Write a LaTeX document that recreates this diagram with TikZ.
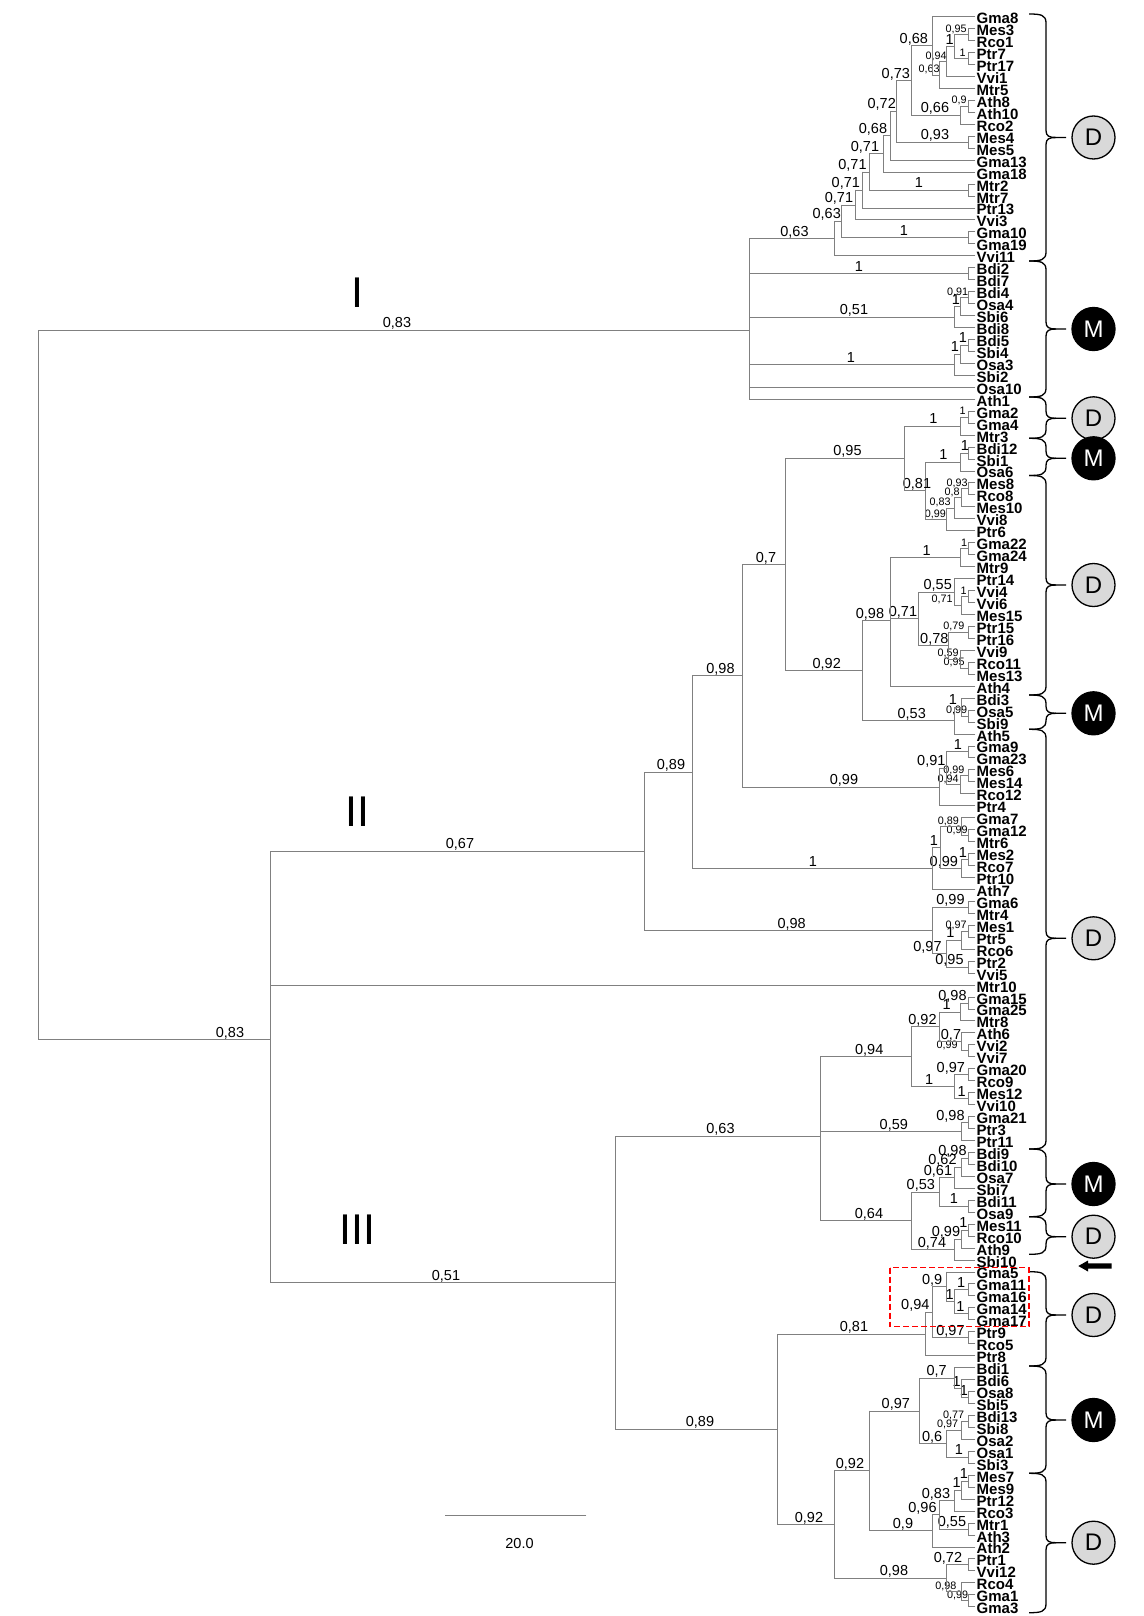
\documentclass[tikz,border=0pt]{standalone}
\usepackage{fontspec}
\setmainfont{Liberation Sans}
\newdimen\ndsum \newdimen\ndmin \newdimen\ndmax \newdimen\ndtmp \newcount\ndcnt
% internal node: name, x, children
\newcommand\nd[3]{%
  \global\ndsum=0pt \global\ndcnt=0
  \global\ndmin=16000pt \global\ndmax=-16000pt
  \foreach \chd in {#3}{%
    \pgfextracty{\ndtmp}{\pgfpointanchor{\chd}{center}}%
    \global\advance\ndsum by \ndtmp
    \global\advance\ndcnt by 1
    \ifdim\ndtmp<\ndmin \global\ndmin=\ndtmp\fi
    \ifdim\ndtmp>\ndmax \global\ndmax=\ndtmp\fi
    \draw[treeline] (#2pt,\the\ndtmp) -- (\chd);
  }%
  \global\divide\ndsum by \ndcnt
  \draw[treeline] (#2pt,\the\ndmin) -- (#2pt,\the\ndmax);
  \coordinate (#1) at (#2pt,\the\ndsum);
}
% label: style, node, x centre, text
\newcommand\lb[4]{%
  \pgfextracty{\ndtmp}{\pgfpointanchor{#2}{center}}%
  \node[#1] at ([yshift=2.5pt]#3pt,\the\ndtmp) {#4};}
% brace: top, bottom, tip
\newcommand\brc[3]{%
  \draw[bracestyle] (1029,#1) .. controls (1041,#1) and (1046,{#1+1}) .. (1046,{#1+9}) -- (1046,{#3-7}) .. controls (1046,{#3-1.5}) and (1049,#3) .. (1056,#3) -- (1066,#3);
  \draw[bracestyle] (1029,#2) .. controls (1041,#2) and (1046,{#2-1}) .. (1046,{#2-9}) -- (1046,{#3+7}) .. controls (1046,{#3+1.5}) and (1049,#3) .. (1056,#3);
}
\begin{document}
\begin{tikzpicture}[x=1pt,y=-1pt,
  treeline/.style={draw=black!50, line width=0.9pt, line cap=rect},
  leaf/.style={font=\bfseries\fontsize{15}{15}\selectfont, anchor=base west, inner sep=0pt},
  lL/.style={font=\fontsize{14.5}{14.5}\selectfont, anchor=base, inner sep=0pt},
  lS/.style={font=\fontsize{10.8}{10.8}\selectfont, anchor=base, inner sep=0pt},
  roman/.style={font=\fontsize{43}{43}\selectfont, anchor=base, inner sep=0pt},
  bracestyle/.style={draw=black, line width=1.3pt},
  cD/.style={circle, draw=black, line width=1.3pt, fill=black!15, minimum size=43pt, inner sep=0pt, font=\fontsize{24}{24}\selectfont},
  cM/.style={circle, draw=black, line width=1.3pt, fill=black, text=white, minimum size=43pt, inner sep=0pt, font=\fontsize{24}{24}\selectfont}]
\fill[white] (0,0) rectangle (1143,1616);
\useasboundingbox (0,0) rectangle (1143,1616);
% leaves
\foreach \nm [count=\i] in {Gma8,Mes3,Rco1,Ptr7,Ptr17,Vvi1,Mtr5,Ath8,Ath10,Rco2,Mes4,Mes5,Gma13,Gma18,Mtr2,Mtr7,Ptr13,Vvi3,Gma10,Gma19,Vvi11,Bdi2,Bdi7,Bdi4,Osa4,Sbi6,Bdi8,Bdi5,Sbi4,Osa3,Sbi2,Osa10,Ath1,Gma2,Gma4,Mtr3,Bdi12,Sbi1,Osa6,Mes8,Rco8,Mes10,Vvi8,Ptr6,Gma22,Gma24,Mtr9,Ptr14,Vvi4,Vvi6,Mes15,Ptr15,Ptr16,Vvi9,Rco11,Mes13,Ath4,Bdi3,Osa5,Sbi9,Ath5,Gma9,Gma23,Mes6,Mes14,Rco12,Ptr4,Gma7,Gma12,Mtr6,Mes2,Rco7,Ptr10,Ath7,Gma6,Mtr4,Mes1,Ptr5,Rco6,Ptr2,Vvi5,Mtr10,Gma15,Gma25,Mtr8,Ath6,Vvi2,Vvi7,Gma20,Rco9,Mes12,Vvi10,Gma21,Ptr3,Ptr11,Bdi9,Bdi10,Osa7,Sbi7,Bdi11,Osa9,Mes11,Rco10,Ath9,Sbi10,Gma5,Gma11,Gma16,Gma14,Gma17,Ptr9,Rco5,Ptr8,Bdi1,Bdi6,Osa8,Sbi5,Bdi13,Sbi8,Osa2,Osa1,Sbi3,Mes7,Mes9,Ptr12,Rco3,Mtr1,Ath3,Ath2,Ptr1,Vvi12,Rco4,Gma1,Gma3}{
  \coordinate (\nm) at (975,{16.7+(\i-1)*11.955});
  \node[leaf] (t\nm) at (976.5,{16.7+(\i-1)*11.955+7}) {\nm};
}
% ---------- clade I
\nd{a1}{968.5}{Mes3,Rco1} \lb{lS}{a1}{956}{0,95}
\nd{a2}{968.5}{Ptr7,Ptr17} \lb{lS}{a2}{962.5}{1}
\nd{a3}{954}{a1,a2} \lb{lL}{a3}{949.7}{1}
\nd{a4}{946.7}{a3,Vvi1} \lb{lS}{a4}{936}{0,94}
\nd{a5}{939.3}{a4,Mtr5} \lb{lS}{a5}{929}{0,63}
\nd{a6}{932.7}{Gma8,a5} \lb{lL}{a6}{913.8}{0,68}
\nd{a7}{968.5}{Ath8,Ath10} \lb{lS}{a7}{959}{0,9}
\nd{a8}{960}{a7,Rco2} \lb{lL}{a8}{935}{0,66}
\nd{a9}{911.7}{a6,a8} \lb{lL}{a9}{895.8}{0,73}
\nd{a10}{968.5}{Mes4,Mes5} \lb{lL}{a10}{935}{0,93}
\nd{a11}{896.7}{a9,a10} \lb{lL}{a11}{881.7}{0,72}
\nd{a12}{890}{a11,Gma13} \lb{lL}{a12}{873}{0,68}
\nd{a13}{883.3}{a12,Gma18} \lb{lL}{a13}{865}{0,71}
\nd{a14}{968.5}{Mtr2,Mtr7} \lb{lL}{a14}{919}{1}
\nd{a15}{869.3}{a13,a14} \lb{lL}{a15}{852.5}{0,71}
\nd{a16}{862.7}{a15,Ptr13} \lb{lL}{a16}{845.8}{0,71}
\nd{a17}{855}{a16,Vvi3} \lb{lL}{a17}{839}{0,71}
\nd{a18}{968.5}{Gma10,Gma19} \lb{lL}{a18}{904}{1}
\nd{a19}{841}{a17,a18} \lb{lL}{a19}{826.7}{0,63}
\nd{a20}{834.3}{a19,Vvi11} \lb{lL}{a20}{794.5}{0,63}
\nd{b1}{968.5}{Bdi2,Bdi7} \lb{lL}{b1}{859}{1}
\nd{b2}{968.5}{Bdi4,Osa4} \lb{lS}{b2}{957.5}{0,91}
\nd{b3}{960.7}{b2,Sbi6} \lb{lL}{b3}{956}{1}
\nd{b4}{954}{b3,Bdi8} \lb{lL}{b4}{854}{0,51}
\nd{b5}{968.5}{Bdi5,Sbi4} \lb{lL}{b5}{963}{1}
\nd{b6}{960.7}{b5,Osa3} \lb{lL}{b6}{955}{1}
\nd{b7}{954}{b6,Sbi2} \lb{lL}{b7}{851}{1}
\nd{cI}{749}{a20,b1,b4,b7,Osa10,Ath1} \lb{lL}{cI}{397}{0,83}
% ---------- clade II
\nd{c1}{968.5}{Gma2,Gma4} \lb{lS}{c1}{962.5}{1}
\nd{c2}{960.7}{c1,Mtr3} \lb{lL}{c2}{933.3}{1}
\nd{c3}{968.5}{Bdi12,Sbi1} \lb{lL}{c3}{965}{1}
\nd{c4}{960.7}{c3,Osa6} \lb{lL}{c4}{943.3}{1}
\nd{d1}{968.5}{Mes8,Rco8} \lb{lS}{d1}{957}{0,93}
\nd{d2}{961}{d1,Mes10} \lb{lS}{d2}{952}{0,8}
\nd{d3}{954}{d2,Vvi8} \lb{lS}{d3}{940}{0,83}
\nd{d4}{946.7}{d3,Ptr6} \lb{lS}{d4}{935.3}{0,99}
\nd{c5}{925}{c4,d4} \lb{lL}{c5}{917}{0,81}
\nd{c6}{904.3}{c2,c5} \lb{lL}{c6}{847.5}{0,95}
\nd{e1}{968.5}{Gma22,Gma24} \lb{lS}{e1}{964}{1}
\nd{e2}{960.7}{e1,Mtr9} \lb{lL}{e2}{926.7}{1}
\nd{f1}{968.5}{Vvi4,Vvi6} \lb{lS}{f1}{963.5}{1}
\nd{f2}{961.7}{f1,Mes15} \lb{lS}{f2}{942}{0,71}
\nd{f3}{954}{Ptr14,f2} \lb{lL}{f3}{937.7}{0,55}
\nd{g1}{968.5}{Ptr15,Ptr16} \lb{lS}{g1}{953.8}{0,79}
\nd{g2}{968.5}{Rco11,Mes13} \lb{lS}{g2}{954}{0,95}
\nd{g3}{960.7}{Vvi9,g2} \lb{lS}{g3}{948}{0,59}
\nd{g4}{948.3}{g1,g3} \lb{lL}{g4}{934.3}{0,78}
\nd{f4}{918.3}{f3,g4} \lb{lL}{f4}{903}{0,71}
\nd{e3}{890}{e2,f4,Ath4} \lb{lL}{e3}{870}{0,98}
\nd{h1}{968.5}{Osa5,Sbi9} \lb{lS}{h1}{956.7}{0,99}
\nd{h2}{961.7}{Bdi3,h1} \lb{lL}{h2}{953}{1}
\nd{h3}{954}{h2,Ath5} \lb{lL}{h3}{911.7}{0,53}
\nd{e4}{862.7}{e3,h3} \lb{lL}{e4}{826.7}{0,92}
\nd{c7}{785.4}{c6,e4} \lb{lL}{c7}{766}{0,7}
\nd{i1}{968.5}{Gma9,Gma23} \lb{lL}{i1}{958}{1}
\nd{i2}{968.5}{Mes6,Mes14} \lb{lS}{i2}{953.8}{0,99}
\nd{i3}{960.7}{i2,Rco12} \lb{lS}{i3}{948}{0,94}
\nd{i4}{946.7}{i1,i3} \lb{lL}{i4}{931.3}{0,91}
\nd{i5}{939.3}{i4,Ptr4} \lb{lL}{i5}{844}{0,99}
\nd{e5}{742.1}{c7,i5} \lb{lL}{e5}{720.5}{0,98}
\nd{j1}{968.5}{Gma12,Mtr6} \lb{lS}{j1}{957}{0,99}
\nd{j2}{961}{Gma7,j1} \lb{lS}{j2}{948.3}{0,89}
\nd{j3}{968.5}{Mes2,Rco7} \lb{lL}{j3}{963}{1}
\nd{j4}{961}{j3,Ptr10} \lb{lL}{j4}{943.8}{0,99}
\nd{j5}{940}{j2,j4} \lb{lL}{j5}{934}{1}
\nd{j6}{932.7}{j5,Ath7} \lb{lL}{j6}{813}{1}
\nd{e6}{692.6}{e5,j6} \lb{lL}{e6}{671}{0,89}
\nd{k1}{968.5}{Gma6,Mtr4} \lb{lL}{k1}{950.5}{0,99}
\nd{k2}{968.5}{Mes1,Ptr5} \lb{lS}{k2}{956}{0,97}
\nd{k3}{961}{k2,Rco6} \lb{lL}{k3}{950.5}{1}
\nd{k4}{968.5}{Ptr2,Vvi5} \lb{lL}{k4}{949.5}{0,95}
\nd{k5}{946.7}{k3,k4} \lb{lL}{k5}{927.5}{0,97}
\nd{k6}{932.7}{k1,k5} \lb{lL}{k6}{791.6}{0,98}
\nd{cII}{644.2}{e6,k6} \lb{lL}{cII}{460}{0,67}
% ---------- clade III
\nd{l1}{968.5}{Gma15,Gma25} \lb{lL}{l1}{952.5}{0,98}
\nd{l2}{960.7}{l1,Mtr8} \lb{lL}{l2}{946.7}{1}
\nd{l3}{968.5}{Vvi2,Vvi7} \lb{lS}{l3}{947}{0,99}
\nd{l4}{961}{Ath6,l3} \lb{lL}{l4}{951}{0,7}
\nd{l5}{939.3}{l2,l4} \lb{lL}{l5}{922.5}{0,92}
\nd{l6}{968.5}{Gma20,Rco9} \lb{lL}{l6}{950.8}{0,97}
\nd{l7}{968.5}{Mes12,Vvi10} \lb{lL}{l7}{961.7}{1}
\nd{l8}{954}{l6,l7} \lb{lL}{l8}{929.2}{1}
\nd{l9}{911}{l5,l8} \lb{lL}{l9}{869.2}{0,94}
\nd{m0}{968.5}{Gma21,Ptr3} \lb{lL}{m0}{950.5}{0,98}
\nd{m1}{961}{m0,Ptr11} \lb{lL}{m1}{893.8}{0,59}
\nd{n1}{968.5}{Bdi9,Bdi10} \lb{lL}{n1}{952.5}{0,98}
\nd{n2}{961}{n1,Osa7} \lb{lL}{n2}{942.5}{0,62}
\nd{n3}{954}{n2,Sbi7} \lb{lL}{n3}{938}{0,61}
\nd{n4}{968.5}{Bdi11,Osa9} \lb{lL}{n4}{954}{1}
\nd{n5}{939.3}{n3,n4} \lb{lL}{n5}{920.8}{0,53}
\nd{o1}{968.5}{Mes11,Rco10} \lb{lL}{o1}{963.3}{1}
\nd{o2}{961}{o1,Ath9} \lb{lL}{o2}{946}{0,99}
\nd{o3}{954}{o2,Sbi10} \lb{lL}{o3}{932}{0,74}
\nd{n6}{911}{n5,o3} \lb{lL}{n6}{869}{0,64}
\nd{nP}{820.7}{l9,m1,n6} \lb{lL}{nP}{720.5}{0,63}
\nd{q1}{968.5}{Gma11,Gma16} \lb{lL}{q1}{961.2}{1}
\nd{q2}{968.5}{Gma14,Gma17} \lb{lL}{q2}{960.5}{1}
\nd{q3}{954}{q1,q2} \lb{lL}{q3}{949.7}{1}
\nd{q4}{946}{Gma5,q3} \lb{lL}{q4}{932.2}{0,9}
\nd{q5}{968.5}{Ptr9,Rco5} \lb{lL}{q5}{950.5}{0,97}
\nd{q6}{932.7}{q4,q5} \lb{lL}{q6}{915.3}{0,94}
\nd{q7}{925}{q6,Ptr8} \lb{lL}{q7}{854}{0,81}
\nd{w1}{968.5}{Osa8,Sbi5} \lb{lL}{w1}{964}{1}
\nd{w2}{961}{Bdi6,w1} \lb{lL}{w2}{956.7}{1}
\nd{w3}{954}{Bdi1,w2} \lb{lL}{w3}{936.7}{0,7}
\nd{x1}{968.5}{Bdi13,Sbi8} \lb{lS}{x1}{953.5}{0,77}
\nd{x2}{961}{x1,Osa2} \lb{lS}{x2}{947.5}{0,97}
\nd{x3}{968.5}{Osa1,Sbi3} \lb{lL}{x3}{959}{1}
\nd{x4}{946.7}{x2,x3} \lb{lL}{x4}{932.2}{0,6}
\nd{nU}{919.3}{w3,x4} \lb{lL}{nU}{895.8}{0,97}
\nd{y1}{968.5}{Mes7,Mes9} \lb{lL}{y1}{964}{1}
\nd{y2}{961}{y1,Ptr12} \lb{lL}{y2}{956.7}{1}
\nd{y3}{954}{y2,Rco3} \lb{lL}{y3}{936}{0,83}
\nd{y4}{968.5}{Mtr1,Ath3} \lb{lL}{y4}{952}{0,55}
\nd{y5}{939.3}{y3,y4} \lb{lL}{y5}{922.5}{0,96}
\nd{nV}{932.7}{y5,Ath2} \lb{lL}{nV}{903}{0,9}
\nd{z1}{968.5}{Ptr1,Vvi12} \lb{lL}{z1}{948}{0,72}
\nd{z2}{968.5}{Gma1,Gma3} \lb{lS}{z2}{957.5}{0,99}
\nd{z3}{961}{Rco4,z2} \lb{lS}{z3}{945.8}{0,98}
\nd{nT}{946.7}{z1,z3} \lb{lL}{nT}{894}{0,98}
\nd{nR}{869.3}{nU,nV} \lb{lL}{nR}{850}{0,92}
\nd{nS}{834.3}{nR,nT} \lb{lL}{nS}{809}{0,92}
\nd{g89}{777.2}{q7,nS} \lb{lL}{g89}{700}{0,89}
\nd{cIII}{615.3}{nP,g89} \lb{lL}{cIII}{446}{0,51}
\nd{cLow}{270}{cII,Mtr10,cIII} \lb{lL}{cLow}{230}{0,83}
\nd{root}{38}{cI,cLow}
% clade numerals
\node[roman] (rI) at (357.6,307) {I};
\node[roman] (rII) at (357.6,826.6) {II};
\node[roman] (rIII) at (357.6,1244) {III};
% scale bar
\coordinate (sb1) at (445,1515); \coordinate (sb2) at (586,1515);
\draw[treeline] (sb1) -- (sb2);
\node[lL] (sbl) at (519.5,1548) {20.0};
% braces and circles
\brc{14}{261}{137.5}       \node[cD] (k01) at (1093.5,137.5) {D};
\brc{261}{397}{329}        \node[cM] (k02) at (1093.5,329) {M};
\brc{397}{438.3}{418.3}    \node[cD] (k03) at (1093.5,418.3) {D};
\brc{438.3}{475.5}{458.3}  \node[cM] (k04) at (1093.5,458.3) {M};
\brc{475.5}{695}{585}      \node[cD] (k05) at (1093.5,585) {D};
\brc{695}{729.3}{713.3}    \node[cM] (k06) at (1093.5,713.3) {M};
\brc{729.3}{1149}{938.3}   \node[cD] (k07) at (1093.5,938.3) {D};
\brc{1149}{1216.7}{1184}   \node[cM] (k08) at (1093.5,1184) {M};
\brc{1216.7}{1254.3}{1236.7} \node[cD] (k09) at (1093.5,1236.7) {D};
\brc{1271.7}{1366}{1315}   \node[cD] (k10) at (1093.5,1315) {D};
\brc{1366}{1473.3}{1420}   \node[cM] (k11) at (1093.5,1420) {M};
\brc{1473.3}{1612.7}{1542.7} \node[cD] (k12) at (1093.5,1542.7) {D};
% arrow pointing at Sbi10
\fill[black] (1078.3,1266) -- (1088,1260.5) -- (1088,1263.3) -- (1111.7,1263.3) -- (1111.7,1268.7) -- (1088,1268.7) -- (1088,1271.5) -- cycle;
% red dashed box
\draw[red, line width=1.5pt, dash pattern=on 6pt off 3pt] (890,1267.7) rectangle (1029,1326.7);
\end{tikzpicture}
\end{document}
